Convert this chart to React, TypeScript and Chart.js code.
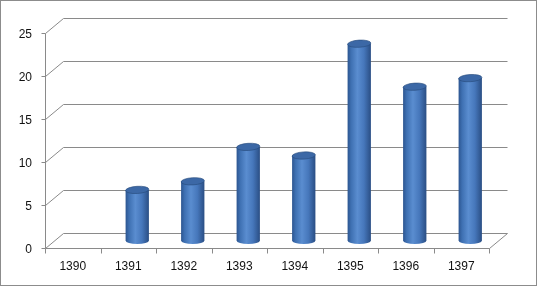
import React, { useEffect, useRef } from "react";
import { Chart, registerables } from "chart.js";

Chart.register(...registerables);

const categories: string[] = ["1390", "1391", "1392", "1393", "1394", "1395", "1396", "1397"];
const values: number[] = [0, 6, 7, 11, 10, 23, 18, 19];
const yMin = 0;
const yMax = 25;
const yStep = 5;

const DX = 18;
const DY = -15;
const GRID = "#8a8a8a";
const FONT = { family: "'Liberation Sans', Arial, sans-serif", size: 12 };

function line(ctx: CanvasRenderingContext2D, x1: number, y1: number, x2: number, y2: number) {
  ctx.beginPath();
  ctx.moveTo(x1, y1);
  ctx.lineTo(x2, y2);
  ctx.stroke();
}

const threeD = {
  id: "threeD",
  beforeDatasetsDraw(chart: any) {
    const { ctx, scales } = chart;
    const x = scales.x;
    const y = scales.y;
    const L = Math.round(x.left) + 0.5;
    const R = Math.round(x.right) + 0.5;
    const B = Math.round(y.bottom) + 0.5;
    const T = Math.round(y.top) + 0.5;
    ctx.save();
    ctx.strokeStyle = GRID;
    ctx.lineWidth = 1;
    y.ticks.forEach((t: any) => {
      const py = Math.round(y.getPixelForValue(t.value)) + 0.5;
      line(ctx, L, py, L + DX, py + DY);
      line(ctx, L + DX, py + DY, R + DX, py + DY);
      line(ctx, L - 4, py, L, py);
    });
    line(ctx, R, B, R + DX, B + DY);
    line(ctx, L, T, L, B);
    line(ctx, L, B, R, B);
    for (let i = 0; i <= categories.length; i++) {
      const bx = Math.round(x.getPixelForValue(i - 0.5)) + 0.5;
      line(ctx, bx, B, bx, B + 5);
    }
    ctx.restore();
  },
  afterDatasetsDraw(chart: any) {
    const { ctx, scales } = chart;
    const x = scales.x;
    const y = scales.y;
    const catW = (x.right - x.left) / categories.length;
    const w = catW * 0.42;
    const rx = w / 2;
    const ry = 3.6;
    ctx.save();
    values.forEach((v, i) => {
      if (v <= 0) return;
      const cx = x.getPixelForValue(i) + DX / 2;
      const top = y.getPixelForValue(v) + DY / 2 + 1;
      const base = y.getPixelForValue(0) + DY / 2;
      const g = ctx.createLinearGradient(cx - rx, 0, cx + rx, 0);
      g.addColorStop(0, "#2c5590");
      g.addColorStop(0.15, "#3e70b2");
      g.addColorStop(0.42, "#5a8dd0");
      g.addColorStop(0.7, "#4677bb");
      g.addColorStop(1, "#2a4e84");
      ctx.fillStyle = g;
      ctx.beginPath();
      ctx.moveTo(cx - rx, top);
      ctx.lineTo(cx - rx, base);
      ctx.ellipse(cx, base, rx, ry, 0, Math.PI, 0, true);
      ctx.lineTo(cx + rx, top);
      ctx.closePath();
      ctx.fill();
      ctx.fillStyle = "#3c68a6";
      ctx.beginPath();
      ctx.ellipse(cx, top, rx, ry, -0.06, 0, Math.PI * 2);
      ctx.fill();
      ctx.strokeStyle = "rgba(40,75,125,0.8)";
      ctx.lineWidth = 0.8;
      ctx.stroke();
    });
    ctx.restore();
  },
  afterDraw(chart: any) {
    const { ctx, width, height } = chart;
    ctx.save();
    ctx.strokeStyle = "#8c8c8c";
    ctx.lineWidth = 1;
    ctx.strokeRect(0.5, 0.5, width - 1, height - 1);
    ctx.restore();
  },
};

export default function App() {
  const ref = useRef<HTMLCanvasElement | null>(null);
  useEffect(() => {
    if (!ref.current) return;
    const chart = new Chart(ref.current, {
      type: "bar",
      data: {
        labels: categories,
        datasets: [
          {
            data: values,
            backgroundColor: "rgba(0,0,0,0)",
            borderWidth: 0,
          },
        ],
      },
      options: {
        responsive: false,
        animation: false,
        events: [],
        layout: { padding: { top: 33, right: 48, left: 0, bottom: 0 } },
        plugins: { legend: { display: false }, tooltip: { enabled: false } },
        scales: {
          x: {
            grid: { display: false, drawTicks: false },
            border: { display: false },
            ticks: { color: "#111", font: FONT, padding: 11, maxRotation: 0 },
            afterFit: (s: any) => {
              s.height = 38;
            },
          },
          y: {
            min: yMin,
            max: yMax,
            grid: { display: false, drawTicks: false },
            border: { display: false },
            ticks: { stepSize: yStep, color: "#111", font: FONT, padding: 13, labelOffset: 1.5 },
            afterFit: (s: any) => {
              s.width = 45;
            },
          },
        },
      },
      plugins: [threeD],
    });
    return () => chart.destroy();
  }, []);
  return (
    <div style={{ position: "fixed", left: 0, top: 0, width: 537, height: 286, background: "#fff" }}>
      <canvas ref={ref} width={537} height={286} style={{ display: "block" }} />
    </div>
  );
}
